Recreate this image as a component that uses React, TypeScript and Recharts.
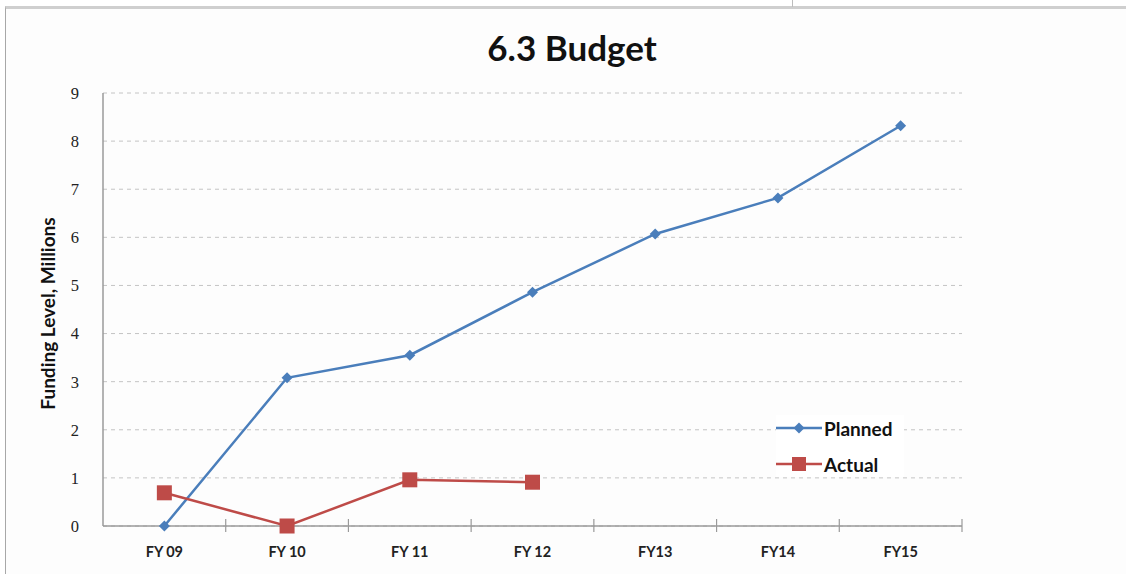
import React from 'react';
import {
  LineChart,
  Line,
  XAxis,
  YAxis,
  CartesianGrid,
} from 'recharts';

// Fiscal years on the category axis
const CATEGORIES = ['FY 09', 'FY 10', 'FY 11', 'FY 12', 'FY13', 'FY14', 'FY15'];

// Funding level, millions
const PLANNED = [0, 3.08, 3.55, 4.86, 6.07, 6.82, 8.32];
const ACTUAL: (number | null)[] = [0.69, 0, 0.96, 0.91, null, null, null];

const Y_TICKS = [0, 1, 2, 3, 4, 5, 6, 7, 8, 9];

const BLUE = '#4a7ebb';
const RED = '#be4b48';
const SANS = 'Lato, "Open Sans", sans-serif';

const chartData = CATEGORIES.map((year, i) => ({
  year,
  planned: PLANNED[i],
  actual: ACTUAL[i],
}));

const Diamond = ({ cx, cy, color, r = 5.5 }: any) => {
  if (cx == null || cy == null) return null;
  return (
    <path
      d={`M${cx},${cy - r} L${cx + r},${cy} L${cx},${cy + r} L${cx - r},${cy} Z`}
      fill={color}
    />
  );
};

const Square = ({ cx, cy, color, s = 15 }: any) => {
  if (cx == null || cy == null) return null;
  return <rect x={cx - s / 2} y={cy - s / 2} width={s} height={s} fill={color} />;
};

// category label plus a tick mark on the boundary between categories
const XTick = ({ x, y, payload }: any) => {
  const edge = x + (payload.offset || 0);
  return (
    <g>
      <line x1={edge} x2={edge} y1={y - 7} y2={y + 6} stroke="#9a9a9a" strokeWidth={1.2} />
      <text
        x={x}
        y={y + 25}
        textAnchor="middle"
        dominantBaseline="central"
        fontFamily={SANS}
        fontWeight={700}
        fontSize={14.5}
        fill="#222"
      >
        {payload.value}
      </text>
    </g>
  );
};

const LegendBox = () => (
  <div style={{ background: '#fff', fontFamily: SANS, fontWeight: 700, fontSize: 19, color: '#111' }}>
    <div style={{ display: 'flex', alignItems: 'center', height: 26 }}>
      <svg width={46} height={20}>
        <line x1={0} x2={46} y1={10} y2={10} stroke={BLUE} strokeWidth={2.5} />
        <Diamond cx={23} cy={10} color={BLUE} />
      </svg>
      <span style={{ marginLeft: 2 }}>Planned</span>
    </div>
    <div style={{ display: 'flex', alignItems: 'center', height: 26, marginTop: 10 }}>
      <svg width={46} height={20}>
        <line x1={0} x2={46} y1={10} y2={10} stroke={RED} strokeWidth={2.5} />
        <Square cx={23} cy={10} color={RED} s={14} />
      </svg>
      <span style={{ marginLeft: 2 }}>Actual</span>
    </div>
  </div>
);

export default function App() {
  return (
    <div style={{ position: 'absolute', left: 0, top: 0, width: 1126, height: 574, background: '#fff', overflow: 'hidden' }}>
      {/* slide frame */}
      <div
        style={{
          position: 'absolute',
          left: 5,
          top: 6,
          right: 0,
          bottom: 0,
          borderTop: '3px solid #cfcfcf',
          borderLeft: '1.5px solid #a8a8a8',
          background: '#fdfdfd',
        }}
      />
      <div style={{ position: 'absolute', left: 792, top: 0, width: 1, height: 7, background: '#bdbdbd' }} />

      <div
        style={{
          position: 'absolute',
          left: 9,
          width: 1126,
          top: 26,
          textAlign: 'center',
          fontFamily: SANS,
          fontWeight: 700,
          fontSize: 35,
          lineHeight: '42px',
          color: '#111',
        }}
      >
        6.3 Budget
      </div>

      <div style={{ position: 'absolute', left: 0, top: 0 }}>
        <LineChart
          width={1126}
          height={574}
          data={chartData}
          margin={{ top: 93, right: 164, bottom: 18, left: 43 }}
        >
          <CartesianGrid vertical={false} stroke="#c4c4c4" strokeDasharray="4 4" />
          <XAxis
            dataKey="year"
            scale="band"
            stroke="#9a9a9a"
            strokeWidth={1.5}
            tickLine={false}
            tickSize={0}
            tickMargin={0}
            height={30}
            interval={0}
            tick={<XTick />}
          />
          <YAxis
            domain={[0, 9]}
            ticks={Y_TICKS}
            width={60}
            stroke="#9a9a9a"
            strokeWidth={1.5}
            tickLine={false}
            tickSize={0}
            tickMargin={24}
            tick={{ fill: '#222', fontSize: 16.5, fontFamily: '"Liberation Serif", serif' }}
            label={{
              value: 'Funding Level, Millions',
              angle: -90,
              position: 'insideLeft',
              offset: 5,
              dy: 4,
              textAnchor: 'middle',
              style: { textAnchor: 'middle', fontFamily: SANS, fontWeight: 700, fontSize: 19, fill: '#111' },
            }}
          />
          <Line
            dataKey="planned"
            name="Planned"
            stroke={BLUE}
            strokeWidth={2.5}
            dot={(p: any) => <Diamond key={`p${p.index}`} cx={p.cx} cy={p.cy} color={BLUE} />}
            isAnimationActive={false}
          />
          <Line
            dataKey="actual"
            name="Actual"
            stroke={RED}
            strokeWidth={2.5}
            dot={(p: any) => <Square key={`a${p.index}`} cx={p.cx} cy={p.cy} color={RED} />}
            isAnimationActive={false}
          />
        </LineChart>
      </div>

      <div style={{ position: 'absolute', left: 776, top: 415, width: 128 }}>
        <LegendBox />
      </div>
    </div>
  );
}
